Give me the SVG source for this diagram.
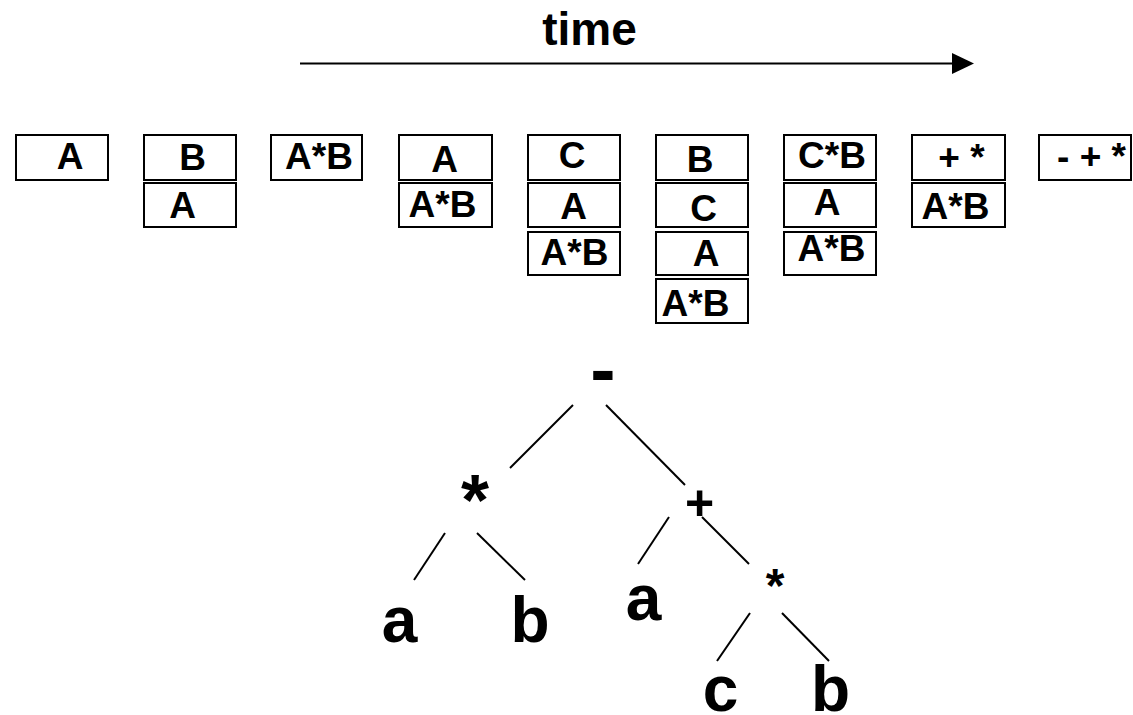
<svg xmlns="http://www.w3.org/2000/svg" width="1133" height="715" viewBox="0 0 1133 715">
<style>
.bx{fill:#fff;stroke:#000;stroke-width:2}
.t{font-family:"Liberation Sans",Arial,sans-serif;font-weight:bold;font-size:37px;fill:#000;text-anchor:middle}
.tr{font-family:"Liberation Sans",Arial,sans-serif;font-weight:bold;fill:#000;text-anchor:middle}
.ln{stroke:#000;stroke-width:2;fill:none}
</style>
<rect width="1133" height="715" fill="#fff"/>
<g id="time-axis">
<text class="tr" x="589.5" y="45" font-size="46">time</text>
<line class="ln" x1="300" y1="63.5" x2="953" y2="63.5"/>
<polygon points="952,53 974,63.5 952,74" fill="#000"/>
</g>
<g id="stack1">
<rect class="bx" x="16" y="135" width="92" height="45"/>
<text class="t" x="70" y="169">A</text>
</g>
<g id="stack2">
<rect class="bx" x="144" y="135" width="92" height="45"/>
<rect class="bx" x="144" y="183" width="92" height="44"/>
<text class="t" x="192.5" y="170">B</text>
<text class="t" x="182.5" y="218">A</text>
</g>
<g id="stack3">
<rect class="bx" x="271" y="135" width="91" height="45"/>
<text class="t" x="319" y="169">A*B</text>
</g>
<g id="stack4">
<rect class="bx" x="399" y="135" width="93" height="45"/>
<rect class="bx" x="399" y="183" width="93" height="44"/>
<text class="t" x="444.5" y="172">A</text>
<text class="t" x="442.5" y="217">A*B</text>
</g>
<g id="stack5">
<rect class="bx" x="528" y="135" width="92" height="45"/>
<rect class="bx" x="528" y="183" width="92" height="44"/>
<rect class="bx" x="528" y="232" width="92" height="43"/>
<text class="t" x="572" y="168">C</text>
<text class="t" x="573.5" y="219">A</text>
<text class="t" x="574.5" y="265">A*B</text>
</g>
<g id="stack6">
<rect class="bx" x="656" y="135" width="92" height="45"/>
<rect class="bx" x="656" y="183" width="92" height="44"/>
<rect class="bx" x="656" y="232" width="92" height="43"/>
<rect class="bx" x="656" y="279" width="92" height="44"/>
<text class="t" x="700" y="172">B</text>
<text class="t" x="703.5" y="221">C</text>
<text class="t" x="706" y="266">A</text>
<text class="t" x="695.5" y="316">A*B</text>
</g>
<g id="stack7">
<rect class="bx" x="784" y="135" width="92" height="45"/>
<rect class="bx" x="784" y="183" width="92" height="44"/>
<rect class="bx" x="784" y="232" width="92" height="43"/>
<text class="t" x="832" y="168">C*B</text>
<text class="t" x="827" y="215">A</text>
<text class="t" x="831.5" y="261">A*B</text>
</g>
<g id="stack8">
<rect class="bx" x="912" y="135" width="93" height="45"/>
<rect class="bx" x="912" y="183" width="93" height="44"/>
<text class="t" x="961.5" y="170">+ *</text>
<text class="t" x="955.5" y="219">A*B</text>
</g>
<g id="stack9">
<rect class="bx" x="1039" y="135" width="92" height="45"/>
<text class="t" x="1091.5" y="169">- + *</text>
</g>
<g id="connectors">
<line class="ln" x1="573" y1="405" x2="510" y2="468"/>
<line class="ln" x1="606" y1="405" x2="685" y2="485"/>
<line class="ln" x1="445" y1="533" x2="414" y2="580"/>
<line class="ln" x1="477" y1="533" x2="525" y2="580"/>
<line class="ln" x1="669" y1="517" x2="638" y2="564"/>
<line class="ln" x1="702" y1="517" x2="749" y2="564"/>
<line class="ln" x1="750" y1="613" x2="717" y2="661"/>
<line class="ln" x1="782" y1="613" x2="829" y2="661"/>
</g>
<g id="node-minus"><text class="tr" x="603" y="395" font-size="76">-</text></g>
<g id="node-times1"><text class="tr" x="475" y="525" font-size="72">*</text></g>
<g id="node-plus"><text class="tr" x="699.5" y="520" font-size="50">+</text></g>
<g id="node-times2"><text class="tr" x="775" y="602" font-size="48">*</text></g>
<g id="leaf-a1"><text class="tr" x="399.5" y="642" font-size="64">a</text></g>
<g id="leaf-b1"><text class="tr" x="530" y="642" font-size="64">b</text></g>
<g id="leaf-a2"><text class="tr" x="643.5" y="620" font-size="64">a</text></g>
<g id="leaf-c"><text class="tr" x="720.5" y="711" font-size="64">c</text></g>
<g id="leaf-b2"><text class="tr" x="830.5" y="711" font-size="64">b</text></g>
</svg>
